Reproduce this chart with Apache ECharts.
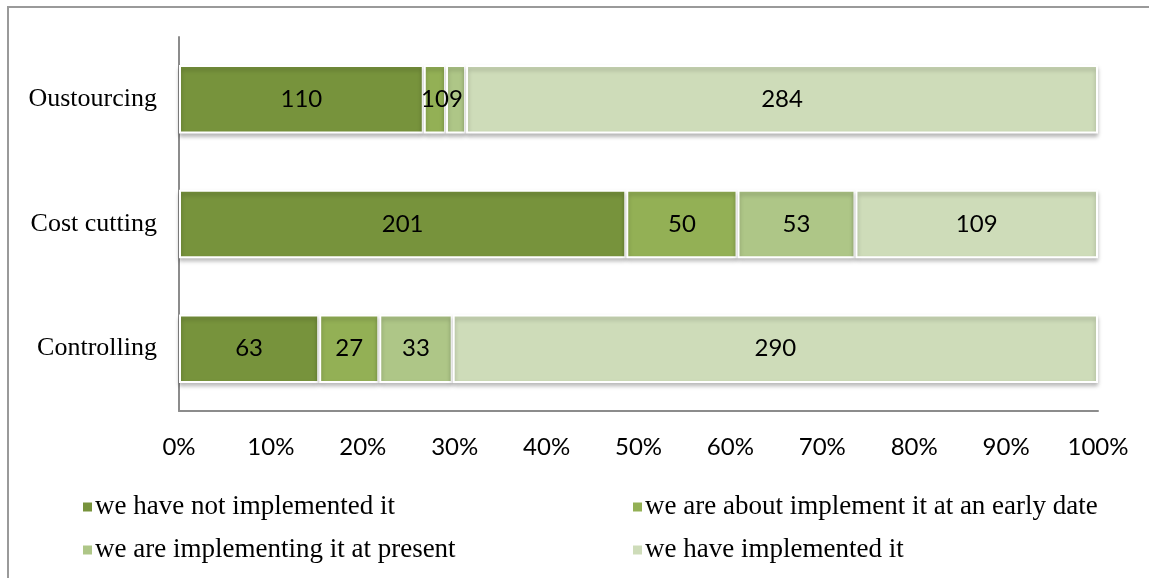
<!DOCTYPE html>
<html>
<head>
<meta charset="utf-8">
<script src="https://cdn.jsdelivr.net/npm/echarts@6/dist/echarts.min.js"></script>
<style>
html,body{margin:0;padding:0;background:#fff;}
#frame{position:absolute;left:7px;top:6px;width:1160px;height:600px;border-left:2px solid #9a9a9a;border-top:2px solid #9a9a9a;box-sizing:border-box;}
#chart{position:absolute;left:0;top:0;width:1149px;height:578px;}
</style>
</head>
<body>
<div id="frame"></div>
<div id="chart"></div>
<script>
// Categories (bottom to top as drawn by ECharts)
const categories = ['Controlling', 'Cost cutting', 'Oustourcing'];
const seriesNames = [
  'we have not implemented it',
  'we are about implement it at an early date',
  'we are implementing it at present',
  'we have implemented it'
];
// Raw counts per category (same order as categories)
const notImplemented = [63, 201, 110];
const aboutToImplement = [27, 50, 10];
const implementing = [33, 53, 9];
const implemented = [290, 109, 284];
const xTicks = [0, 10, 20, 30, 40, 50, 60, 70, 80, 90, 100];

const colors = ['#77933C', '#93B055', '#AEC687', '#CEDCB9'];
const raw = [notImplemented, aboutToImplement, implementing, implemented];
const totals = categories.map((c, i) => raw.reduce((s, arr) => s + arr[i], 0));

const chart = echarts.init(document.getElementById('chart'), null, {renderer: 'canvas'});
const series = raw.map((arr, si) => ({
  name: seriesNames[si],
  type: 'bar',
  stack: 'total',
  barWidth: '55%',
  data: arr.map((v, i) => ({value: v / totals[i] * 100, raw: v})),
  itemStyle: {
    color: colors[si],
    borderColor: '#ffffff',
    borderWidth: 2,
    shadowColor: 'rgba(0,0,0,0.25)',
    shadowBlur: 4,
    shadowOffsetY: 3
  },
  label: {
    show: true,
    position: 'inside',
    color: '#000',
    fontFamily: 'Lato',
    fontSize: 24,
    formatter: p => String(p.data.raw)
  }
}));

const legendText = {fontFamily: 'Liberation Serif', fontSize: 27, color: '#000', lineHeight: 32, padding: [0,0,0,-3]};

chart.setOption({
  animation: false,
  grid: {left: 179, right: 51, top: 37, bottom: 167, containLabel: false},
  xAxis: {
    type: 'value',
    min: 0, max: 100, interval: 10,
    axisLine: {show: true, lineStyle: {color: '#8c8c8c', width: 2}},
    axisTick: {show: false},
    splitLine: {show: false},
    axisLabel: {
      formatter: v => xTicks.includes(v) ? v + '%' : '',
      fontFamily: 'Lato', fontSize: 24, color: '#000', margin: 24
    }
  },
  yAxis: {
    type: 'category',
    data: categories,
    axisLine: {show: true, lineStyle: {color: '#8c8c8c', width: 2}},
    axisTick: {show: false},
    axisLabel: {fontFamily: 'Liberation Serif', fontSize: 26, color: '#000', margin: 22}
  },
  legend: [
    {
      orient: 'vertical', left: 76, top: 486,
      data: [seriesNames[0], seriesNames[2]],
      icon: 'rect', itemWidth: 11, itemHeight: 11, itemGap: 11,
      textStyle: legendText
    },
    {
      orient: 'vertical', left: 626, top: 486,
      data: [seriesNames[1], seriesNames[3]],
      icon: 'rect', itemWidth: 11, itemHeight: 11, itemGap: 11,
      textStyle: legendText
    }
  ],
  series: series
});
</script>
</body>
</html>
